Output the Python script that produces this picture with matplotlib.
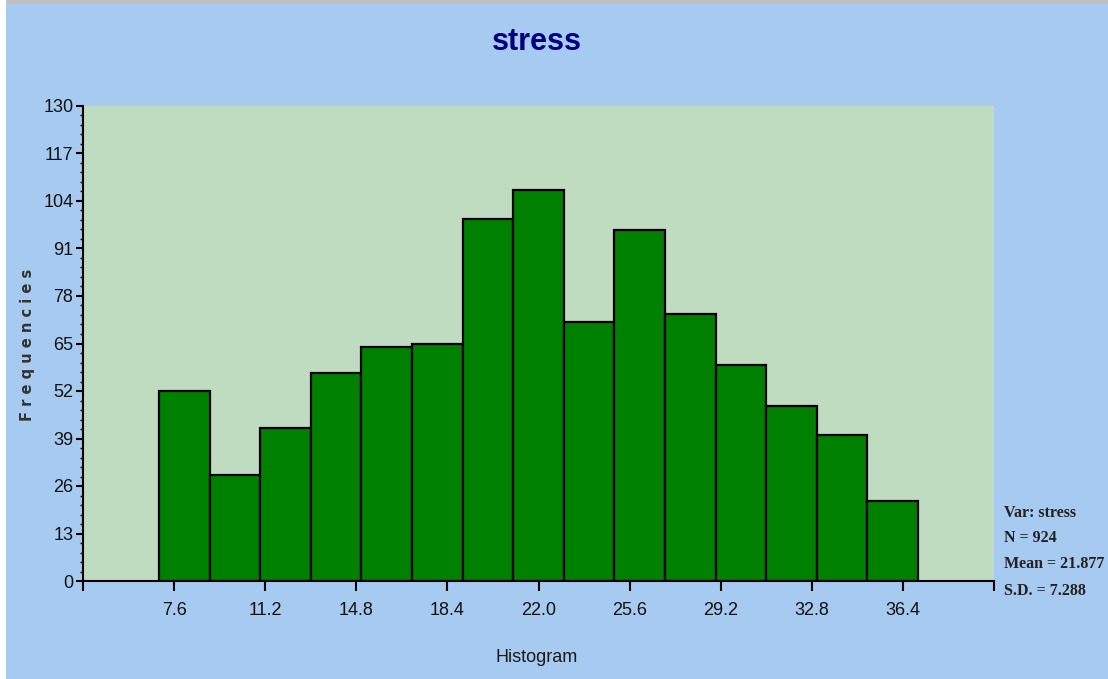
import matplotlib
matplotlib.use("Agg")
import matplotlib.pyplot as plt
from matplotlib.ticker import MultipleLocator, FixedLocator
import matplotlib.patches as mpatches

# Data
bin_edges = [7, 9, 11, 13, 15, 17, 19, 21, 23, 25, 27, 29, 31, 33, 35, 37]
counts = [52, 29, 42, 57, 64, 65, 99, 107, 71, 96, 73, 59, 48, 40, 22]
x_ticks = [7.6, 11.2, 14.8, 18.4, 22.0, 25.6, 29.2, 32.8, 36.4]
x_tick_labels = ["7.6", "11.2", "14.8", "18.4", "22.0", "25.6", "29.2", "32.8", "36.4"]
y_ticks = [0, 13, 26, 39, 52, 65, 78, 91, 104, 117, 130]
stats_lines = ["Var: stress", "N = 924", "Mean = 21.877", "S.D. = 7.288"]

narrow = ["Liberation Sans Narrow", "Liberation Sans", "DejaVu Sans"]

fig = plt.figure(figsize=(11.08, 6.79), dpi=100)
fig.patch.set_facecolor("#a6caf0")
# top grey border and left white strip
fig.patches.append(mpatches.Rectangle((0, 1 - 4 / 679), 1, 4 / 679, transform=fig.transFigure,
                                      facecolor="#c0c0c0", edgecolor="none", zorder=0))
fig.patches.append(mpatches.Rectangle((0, 0), 6 / 1108, 1, transform=fig.transFigure,
                                      facecolor="#ffffff", edgecolor="none", zorder=0))

ax = fig.add_axes([83 / 1108, 1 - 581 / 679, (994 - 83) / 1108, (581 - 106) / 679])
ax.set_facecolor("#c0dcc0")

widths = [bin_edges[i + 1] - bin_edges[i] for i in range(len(counts))]
ax.bar(bin_edges[:-1], counts, width=widths, align="edge", color="#008000",
       edgecolor="black", linewidth=1.6, zorder=2)

ax.set_xlim(4, 40)
ax.set_ylim(0, 130)

ax.spines["top"].set_visible(False)
ax.spines["right"].set_visible(False)
ax.spines["left"].set_linewidth(1.5)
ax.spines["bottom"].set_linewidth(1.5)

ax.xaxis.set_major_locator(FixedLocator([4.0] + x_ticks + [40.0]))
ax.set_xticklabels([""] + x_tick_labels + [""])
ax.yaxis.set_major_locator(FixedLocator(y_ticks))
ax.set_yticklabels([str(v) for v in y_ticks])
ax.yaxis.set_minor_locator(MultipleLocator(2.6))

ax.tick_params(axis="x", direction="out", length=7, width=1.5, pad=8, labelsize=13,
               colors="black")
ax.tick_params(axis="y", which="major", direction="out", length=5, width=1.5, pad=2,
               labelsize=13)
ax.tick_params(axis="y", which="minor", direction="out", length=2, width=1)
for lab in ax.get_xticklabels() + ax.get_yticklabels():
    lab.set_family(narrow)
    lab.set_color("#111111")

fig.text(537 / 1108, 1 - 42 / 679, "stress", ha="center", va="center", fontsize=22,
         fontweight="bold", color="#000080", family=narrow)
fig.text(537 / 1108, 1 - 657 / 679, "Histogram", ha="center", va="center", fontsize=13,
         color="#1a1a1a", family=narrow)
fig.text(28 / 1108, 1 - 345 / 679, "F r e q u e n c i e s", ha="center", va="center",
         fontsize=10.5, fontweight="bold", color="#333333", rotation=90, family=["DejaVu Sans"])

ys = [513, 538, 564, 591]
for s, y in zip(stats_lines, ys):
    fig.text(1004 / 1108, 1 - y / 679, s, ha="left", va="center", fontsize=11.5,
             fontweight="bold", color="#222222", family=["Liberation Serif", "DejaVu Serif"])

fig.savefig("out.png", dpi=100, facecolor=fig.get_facecolor())
